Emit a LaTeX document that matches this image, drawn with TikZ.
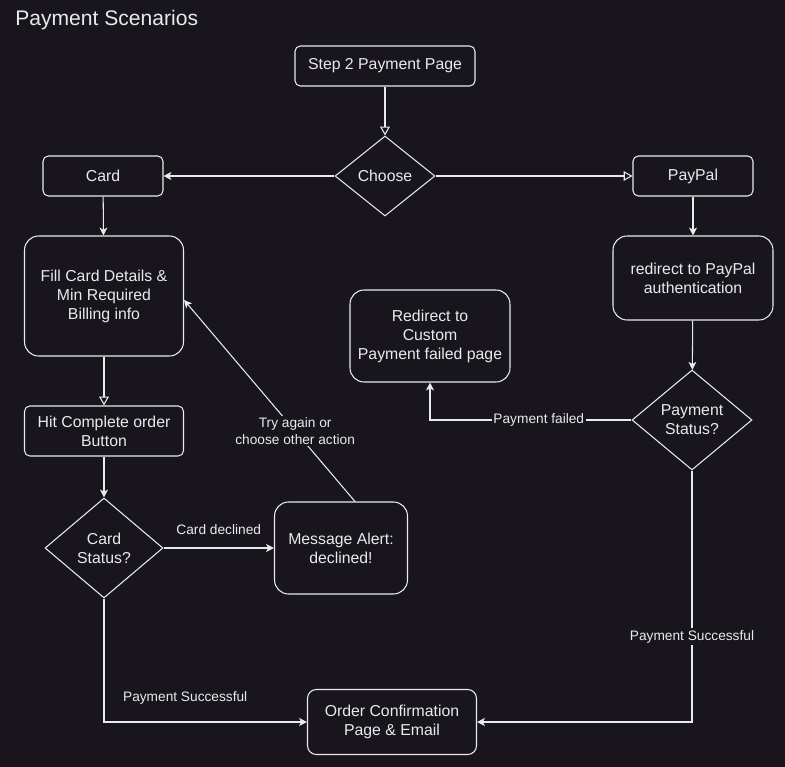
\documentclass[tikz,border=0pt]{standalone}
\usepackage{fontspec}
\setmainfont{Liberation Sans}
\usetikzlibrary{shapes.geometric,arrows.meta,positioning}
\definecolor{bg}{RGB}{24,22,28}
\definecolor{ink}{RGB}{234,234,238}
\tikzset{
  box/.style={draw=ink, fill=bg, text=ink, line width=0.6pt, rounded corners=3pt,
    align=center, inner sep=2pt, font=\fontsize{9}{10.8}\selectfont},
  bigbox/.style={box, rounded corners=8pt},
  choice/.style={diamond, draw=ink, fill=bg, text=ink, line width=0.6pt,
    align=center, inner sep=0pt, font=\fontsize{9}{10.8}\selectfont},
  arr/.style={draw=ink, line width=0.6pt, -{Stealth[length=4.5pt,width=4.5pt,inset=1.2pt]}},
  tri/.style={draw=ink, line width=0.6pt, -{Triangle[open,length=5pt,width=5.5pt]}},
  lbl/.style={text=ink, inner sep=1pt, align=center, font=\fontsize{7.8}{9.4}\selectfont},
}
\begin{document}
\begin{tikzpicture}[x=0.02cm,y=-0.02cm]
\fill[bg] (0,0) rectangle (785,767);
\useasboundingbox (0,0) rectangle (785,767);
\node[anchor=west, text=ink, inner sep=0pt, font=\fontsize{12}{14}\selectfont] (title) at (15,20) {Payment Scenarios};
% top of the flow
\node[box, minimum width=3.6cm, minimum height=0.8cm] (step) at (385,66) {Step 2 Payment Page};
\node[choice, minimum width=2cm, minimum height=1.6cm] (choose) at (385,176) {Choose};
\node[box, minimum width=2.4cm, minimum height=0.8cm] (card) at (103,176) {Card};
\node[box, minimum width=2.4cm, minimum height=0.8cm] (paypal) at (693,176) {PayPal};
% card side
\node[bigbox, minimum width=3.18cm, minimum height=2.4cm] (fill) at (104,296) {Fill Card Details \&\\Min Required\\Billing info};
\node[box, minimum width=3.18cm, minimum height=1cm] (hit) at (104,431) {Hit Complete order\\Button};
\node[choice, minimum width=2.36cm, minimum height=2cm] (cardst) at (104,548) {Card\\Status?};
\node[bigbox, minimum width=2.66cm, minimum height=1.84cm] (msg) at (341,548) {Message Alert:\\declined!};
% paypal side
\node[bigbox, minimum width=3.2cm, minimum height=1.68cm] (redir) at (693,278) {redirect to PayPal\\authentication};
\node[choice, minimum width=2.4cm, minimum height=2cm] (paystat) at (692,420) {Payment\\Status?};
\node[bigbox, minimum width=3.2cm, minimum height=1.84cm] (custom) at (430,336) {Redirect to\\Custom\\Payment failed page};
\node[box, rounded corners=5pt, minimum width=3.38cm, minimum height=1.3cm] (order) at (392,722) {Order Confirmation\\Page \& Email};
% connectors
\draw[tri] (step) -- (choose);
\draw[arr] (choose) -- (card);
\draw[tri] (choose) -- (paypal);
\draw[arr] (card) -- (fill);
\draw[tri] (fill) -- (hit);
\draw[arr] (hit) -- (cardst);
\draw[arr] (cardst) -- node[lbl, above=0.22cm] {Card declined} (msg);
\draw[arr] ([xshift=0.28cm]msg.north) -- node[lbl, fill=bg, pos=0.35] {Try again or\\choose other action} ([yshift=-0.08cm]fill.east);
\draw[arr] (paypal) -- (redir);
\draw[arr] (redir) -- (paystat);
\draw[arr] (paystat.west) -| node[lbl, fill=bg, pos=0.23] {Payment failed} (custom.south);
\draw[arr] (paystat.south) |- node[lbl, fill=bg, pos=0.33] {Payment Successful} (order.east);
\draw[arr] (cardst.south) |- node[lbl, pos=0.7, above=0.3cm] {Payment Successful} (order.west);
\end{tikzpicture}
\end{document}
